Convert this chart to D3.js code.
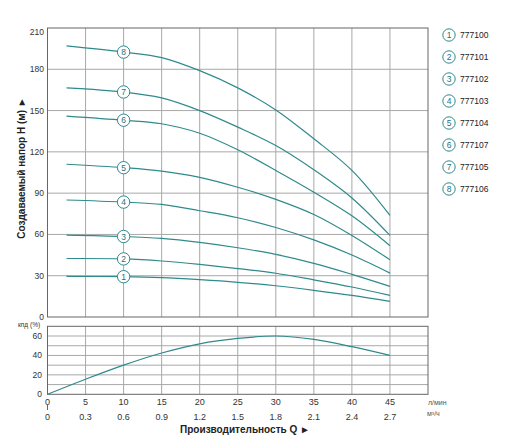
<!DOCTYPE html>
<html>
<head>
<meta charset="utf-8">
<script src="https://cdn.jsdelivr.net/npm/d3@7"></script>
<style>
  body { margin: 0; background: #fff; }
  text { font-family: "Liberation Sans", Arial, sans-serif; }
</style>
</head>
<body>
<svg id="chart" width="512" height="442"></svg>
<script>
// flow points (l/min) where the head curves were read
const flow = [2.5, 10, 15, 20, 25, 30, 35, 40, 45];

const models = ["777100", "777101", "777102", "777103", "777104", "777107", "777105", "777106"];

// head H (m) for each pump, same order as models
const head1 = [29.5, 29.3, 28.6, 27.1, 25.2, 22.7, 19.4, 15.7, 11.4];
const head2 = [42.5, 42.2, 40.7, 38.2, 35.2, 31.8, 27.0, 21.8, 15.7];
const head3 = [59.5, 58.5, 57.1, 54.2, 50.3, 45.5, 39.0, 31.0, 22.3];
const head4 = [85.0, 83.5, 81.8, 77.2, 72.1, 65.0, 56.0, 45.0, 31.9];
const head5 = [111.0, 108.5, 106.0, 101.5, 94.3, 85.5, 74.5, 59.3, 41.6];
const head6 = [146.0, 143.0, 140.4, 133.5, 121.5, 106.5, 90.7, 73.5, 51.8];
const head7 = [166.5, 163.5, 159.2, 150.0, 138.0, 124.6, 107.0, 86.5, 59.3];
const head8 = [197.0, 192.5, 188.5, 179.0, 166.5, 150.5, 129.5, 106.5, 73.8];
const heads = [head1, head2, head3, head4, head5, head6, head7, head8];

// efficiency curve
const kpdFlow = [0, 5, 10, 15, 20, 25, 30, 35, 40, 45];
const kpd = [0, 15.5, 30, 42.5, 52, 57.5, 60, 56.5, 49, 40];

// tick labels
const headTicks = [0, 30, 60, 90, 120, 150, 180, 210];
const kpdTicks = [0, 20, 40, 60];
const kpdGrid = [10, 20, 30, 40, 50, 60];
const flowTicks = [0, 5, 10, 15, 20, 25, 30, 35, 40, 45];
const m3hLabels = ["0", "0.3", "0.6", "0.9", "1.2", "1.5", "1.8", "2.1", "2.4", "2.7"];

const svg = d3.select("#chart");
const teal = "#2f8a8c";
const gridColor = "#a8a8a8";

// scales
const x = d3.scaleLinear().domain([0, 50]).range([47.5, 428]);
const yH = d3.scaleLinear().domain([0, 210]).range([317, 28]);
const yE = d3.scaleLinear().domain([0, 70]).range([394.3, 326.3]);

// ---- head panel grid ----
svg.append("g")
    .selectAll("line")
    .data(flowTicks.slice(1))
    .join("line")
    .attr("x1", d => x(d)).attr("x2", d => x(d))
    .attr("y1", yH(0)).attr("y2", yH(210))
    .attr("stroke", gridColor);

svg.append("g")
    .selectAll("line")
    .data(headTicks.slice(1, -1))
    .join("line")
    .attr("x1", x(0)).attr("x2", x(50))
    .attr("y1", d => yH(d)).attr("y2", d => yH(d))
    .attr("stroke", gridColor);

svg.append("rect")
    .attr("x", x(0)).attr("y", yH(210))
    .attr("width", x(50) - x(0)).attr("height", yH(0) - yH(210))
    .attr("fill", "none").attr("stroke", "#666");

// y tick labels
svg.append("g")
    .selectAll("text")
    .data(headTicks)
    .join("text")
    .attr("x", 44)
    .attr("y", d => yH(d) + (d === 210 ? 4 : 0))
    .attr("dy", "0.35em")
    .attr("text-anchor", "end")
    .style("font-size", "8.5px")
    .style("fill", "#333")
    .text(d => d);

// y axis title
svg.append("text")
    .attr("transform", "rotate(-90)")
    .attr("x", -168)
    .attr("y", 25)
    .attr("text-anchor", "middle")
    .style("font-size", "10px")
    .style("font-weight", "bold")
    .style("fill", "#222")
    .text("Создаваемый напор H (м) ►");

// head curves
const line = d3.line()
    .x((d, i) => x(flow[i]))
    .y(d => yH(d))
    .curve(d3.curveCatmullRom.alpha(0.5));

svg.append("g")
    .selectAll("path")
    .data(heads)
    .join("path")
    .attr("d", line)
    .attr("fill", "none")
    .attr("stroke", teal)
    .attr("stroke-width", 1.2);

// numbered markers at 10 l/min
const marks = svg.append("g")
    .selectAll("g")
    .data(heads)
    .join("g")
    .attr("transform", d => `translate(${x(flow[1])},${yH(d[1])})`);

marks.append("circle")
    .attr("r", 6.2)
    .attr("fill", "#fff")
    .attr("stroke", teal)
    .attr("stroke-width", 1);

marks.append("text")
    .attr("text-anchor", "middle")
    .attr("dy", "0.36em")
    .style("font-size", "8.5px")
    .style("fill", "#2a7072")
    .text((d, i) => i + 1);

// legend
const ly = d3.scalePoint().domain(models).range([35, 189]);
const leg = svg.append("g")
    .selectAll("g")
    .data(models)
    .join("g")
    .attr("transform", d => `translate(449,${ly(d)})`);

leg.append("circle")
    .attr("r", 6.2)
    .attr("fill", "#fff")
    .attr("stroke", teal);

leg.append("text")
    .attr("text-anchor", "middle")
    .attr("dy", "0.36em")
    .style("font-size", "8.5px")
    .style("fill", "#2a7072")
    .text((d, i) => i + 1);

leg.append("text")
    .attr("x", 11)
    .attr("dy", "0.36em")
    .style("font-size", "8.5px")
    .style("fill", "#222")
    .text(d => d);

// ---- efficiency panel ----
svg.append("g")
    .selectAll("line")
    .data(flowTicks.slice(1))
    .join("line")
    .attr("x1", d => x(d)).attr("x2", d => x(d))
    .attr("y1", yE(0)).attr("y2", yE(70))
    .attr("stroke", gridColor);

svg.append("g")
    .selectAll("line")
    .data(kpdGrid)
    .join("line")
    .attr("x1", x(0)).attr("x2", x(50))
    .attr("y1", d => yE(d)).attr("y2", d => yE(d))
    .attr("stroke", gridColor);

svg.append("rect")
    .attr("x", x(0)).attr("y", yE(70))
    .attr("width", x(50) - x(0)).attr("height", yE(0) - yE(70))
    .attr("fill", "none").attr("stroke", "#666");

svg.append("g")
    .selectAll("text")
    .data(kpdTicks)
    .join("text")
    .attr("x", 42)
    .attr("y", d => yE(d))
    .attr("dy", "0.35em")
    .attr("text-anchor", "end")
    .style("font-size", "8.5px")
    .style("fill", "#333")
    .text(d => d);

svg.append("text")
    .attr("x", 18)
    .attr("y", 327)
    .style("font-size", "6.5px")
    .style("fill", "#333")
    .text("кпд (%)");

const kpdLine = d3.line()
    .x((d, i) => x(kpdFlow[i]))
    .y(d => yE(d))
    .curve(d3.curveCatmullRom.alpha(0.5));

svg.append("path")
    .datum(kpd)
    .attr("d", kpdLine)
    .attr("fill", "none")
    .attr("stroke", teal)
    .attr("stroke-width", 1.2);

// ---- flow axes ----
svg.append("g")
    .selectAll("text")
    .data(flowTicks)
    .join("text")
    .attr("x", d => x(d))
    .attr("y", 404.5)
    .attr("text-anchor", "middle")
    .style("font-size", "9px")
    .style("fill", "#333")
    .text(d => d);

svg.append("line")
    .attr("x1", x(0)).attr("x2", x(0))
    .attr("y1", 405).attr("y2", 410)
    .attr("stroke", "#666");

svg.append("g")
    .selectAll("text")
    .data(m3hLabels)
    .join("text")
    .attr("x", (d, i) => x(flowTicks[i]))
    .attr("y", 419.5)
    .attr("text-anchor", "middle")
    .style("font-size", "9px")
    .style("fill", "#333")
    .text(d => d);

svg.append("text")
    .attr("x", 428)
    .attr("y", 405)
    .style("font-size", "7px")
    .style("fill", "#555")
    .text("л/мин");

svg.append("text")
    .attr("x", 427)
    .attr("y", 415.5)
    .style("font-size", "7px")
    .style("fill", "#555")
    .text("м³/ч");

svg.append("text")
    .attr("x", 245)
    .attr("y", 433)
    .attr("text-anchor", "middle")
    .style("font-size", "10px")
    .style("font-weight", "bold")
    .style("fill", "#222")
    .text("Производительность Q ►");
</script>
</body>
</html>
